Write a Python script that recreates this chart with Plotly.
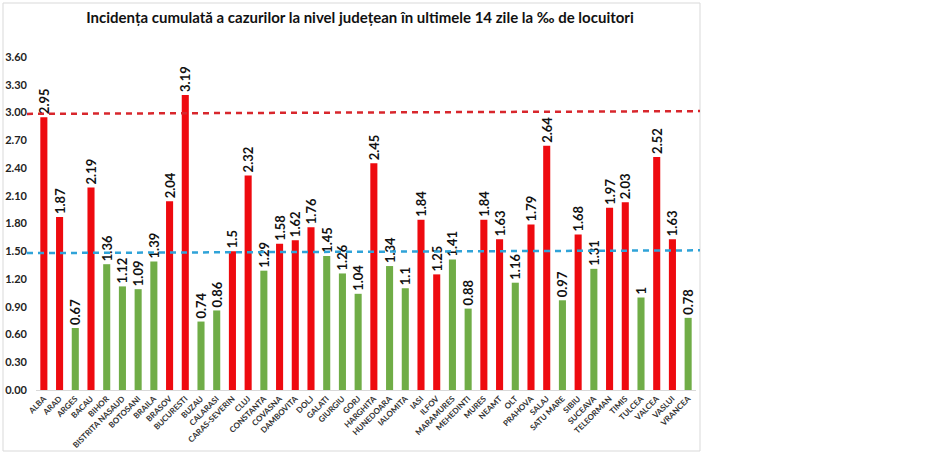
import plotly.graph_objects as go

# Counties and cumulative 14-day incidence (per 1000 inhabitants)
counties = ['ALBA', 'ARAD', 'ARGES', 'BACAU', 'BIHOR', 'BISTRITA NASAUD', 'BOTOSANI', 'BRAILA',
            'BRASOV', 'BUCURESTI', 'BUZAU', 'CALARASI', 'CARAS-SEVERIN', 'CLUJ', 'CONSTANTA',
            'COVASNA', 'DAMBOVITA', 'DOLJ', 'GALATI', 'GIURGIU', 'GORJ', 'HARGHITA', 'HUNEDOARA',
            'IALOMITA', 'IASI', 'ILFOV', 'MARAMURES', 'MEHEDINTI', 'MURES', 'NEAMT', 'OLT',
            'PRAHOVA', 'SALAJ', 'SATU MARE', 'SIBIU', 'SUCEAVA', 'TELEORMAN', 'TIMIS', 'TULCEA',
            'VALCEA', 'VASLUI', 'VRANCEA']
incidence = [2.95, 1.87, 0.67, 2.19, 1.36, 1.12, 1.09, 1.39, 2.04, 3.19, 0.74, 0.86, 1.5, 2.32,
             1.29, 1.58, 1.62, 1.76, 1.45, 1.26, 1.04, 2.45, 1.34, 1.1, 1.84, 1.25, 1.41, 0.88,
             1.84, 1.63, 1.16, 1.79, 2.64, 0.97, 1.68, 1.31, 1.97, 2.03, 1, 2.52, 1.63, 0.78]
# 'r' = red bar, 'g' = green bar (as coloured in the original)
groups = ['r', 'r', 'g', 'r', 'g', 'g', 'g', 'g', 'r', 'r', 'g', 'g', 'r', 'r', 'g', 'r', 'r', 'r',
          'g', 'g', 'g', 'r', 'g', 'g', 'r', 'r', 'g', 'g', 'r', 'r', 'g', 'r', 'r', 'g', 'r', 'g',
          'r', 'r', 'g', 'r', 'r', 'g']

# Reference lines (start / end level)
red_line = [2.985, 3.015]
blue_line = [1.48, 1.51]

y_ticks = [0.0, 0.3, 0.6, 0.9, 1.2, 1.5, 1.8, 2.1, 2.4, 2.7, 3.0, 3.3, 3.6]

color_map = {'r': '#EE0A0F', 'g': '#70AD47'}
bar_colors = [color_map[g] for g in groups]

FONT = 'Lato'

fig = go.Figure()

fig.add_trace(go.Bar(
    x=counties, y=incidence,
    marker=dict(color=bar_colors, line=dict(width=0)),
    text=[str(v) for v in incidence],
    textposition='outside',
    textangle=-90,
    constraintext='none',
    cliponaxis=False,
    textfont=dict(family=FONT, size=13, color='#111111', weight='bold'),
))

# Plot area in pixels: x 36..696, y 57..390
L, R, T, B = 36, 696, 57, 390
W, H = 950, 454
pw = R - L


def px_to_paper_x(px):
    return (px - L) / pw


def px_to_paper_y(py):
    return (B - py) / (B - T)


# Outer light frame around chart
fig.add_shape(type='rect', xref='paper', yref='paper',
              x0=px_to_paper_x(3), x1=px_to_paper_x(700),
              y0=px_to_paper_y(451), y1=px_to_paper_y(3),
              line=dict(color='#D9D9D9', width=1), fillcolor='rgba(0,0,0,0)', layer='below')

# Dashed reference lines
fig.add_shape(type='line', xref='paper', yref='y',
              x0=px_to_paper_x(27), x1=px_to_paper_x(700),
              y0=red_line[0], y1=red_line[1],
              line=dict(color='#D8262C', width=2.5, dash='6px,5px'))
fig.add_shape(type='line', xref='paper', yref='y',
              x0=px_to_paper_x(27), x1=px_to_paper_x(700),
              y0=blue_line[0], y1=blue_line[1],
              line=dict(color='#2FA3D8', width=2.5, dash='6px,5px'))

fig.update_layout(
    width=W, height=H,
    margin=dict(l=L, r=W - R, t=T, b=H - B),
    paper_bgcolor='white',
    plot_bgcolor='white',
    showlegend=False,
    bargap=0.55,
    title=dict(
        text='Incidența cumulată a cazurilor la nivel județean în ultimele 14 zile la ‰ de locuitori',
        x=360 / W, xref='container', xanchor='center',
        y=1 - 18 / H, yref='container', yanchor='middle',
        font=dict(family=FONT, size=15, color='#111111', weight='bold'),
    ),
    xaxis=dict(
        tickangle=-45,
        tickfont=dict(family=FONT, size=8, color='#333333', weight='bold'),
        showgrid=False,
        showline=True, linecolor='#D9D9D9', linewidth=1,
        ticks='',
        automargin=False,
    ),
    yaxis=dict(
        range=[0, 3.6],
        tickvals=y_ticks,
        tickformat='.2f',
        tickfont=dict(family=FONT, size=11, color='#222222', weight='bold'),
        ticklabelstandoff=8,
        showgrid=False,
        zeroline=False,
        showline=False,
        ticks='',
        automargin=False,
    ),
)

# Remove the default page margin so the figure sits at the window's corner
fig.write_html('out.html', config={'displayModeBar': False},
               post_script="document.body.style.margin='0';")
